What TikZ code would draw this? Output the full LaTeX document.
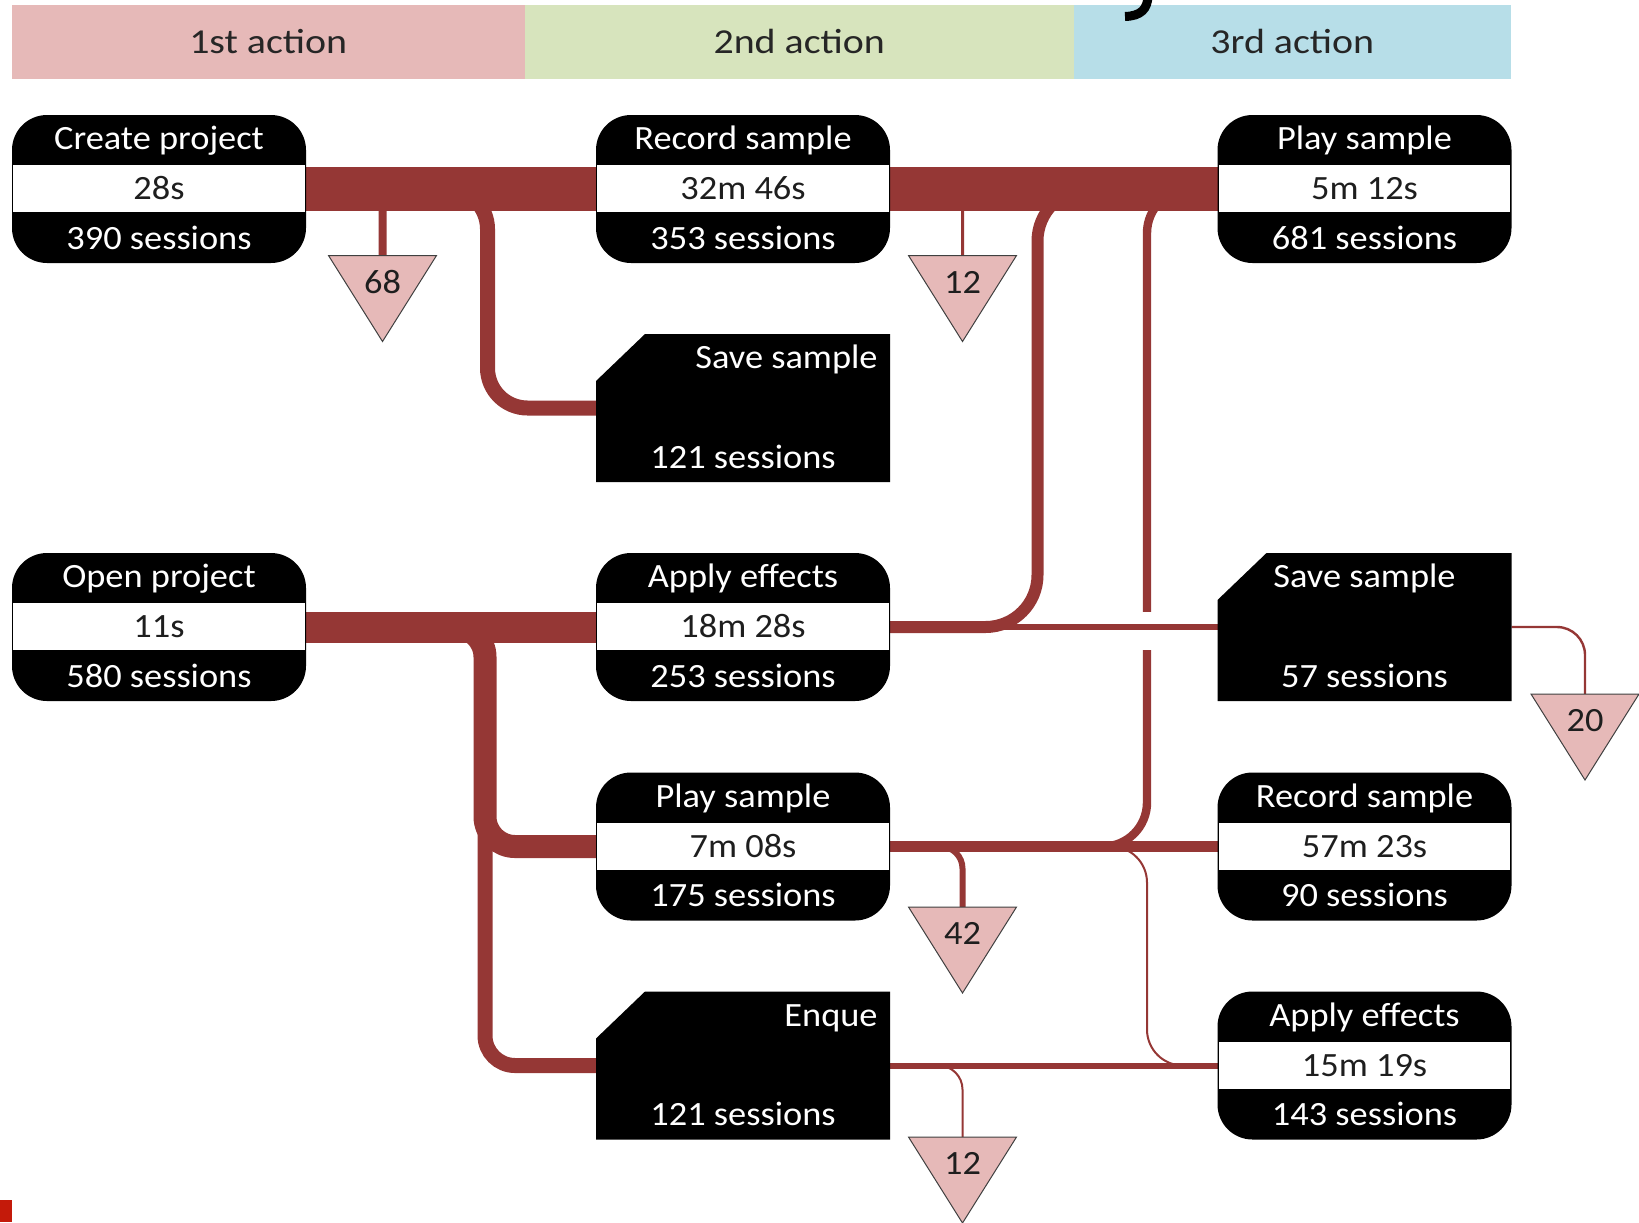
\documentclass[tikz,border=0pt]{standalone}
\usepackage{fontspec}
\setmainfont{Carlito}[FakeStretch=1.07]
\newfontfamily\headfont{Carlito}[FakeStretch=1.14]
\usetikzlibrary{calc}
\pgfdeclarelayer{bg}
\pgfsetlayers{bg,main}

\definecolor{flowred}{RGB}{149,55,53}
\definecolor{headpink}{RGB}{230,185,184}
\definecolor{headgreen}{RGB}{215,228,189}
\definecolor{headblue}{RGB}{183,222,232}
\definecolor{droppink}{RGB}{230,185,184}
\definecolor{inktext}{RGB}{30,30,30}
\definecolor{marker}{RGB}{196,26,10}

\tikzset{
  head/.style={rectangle, inner sep=0pt, outer sep=0pt, minimum height=37pt,
    text=black!85, font=\headfont\fontsize{17.5pt}{20pt}\selectfont,
    text height=11.3pt, text depth=0pt},
  actbox/.style={rectangle, fill=black, rounded corners=17.5pt,
    minimum width=147pt, minimum height=74pt, inner sep=0pt, outer sep=0pt,
    path picture={\fill[white, sharp corners]
      ([xshift=0.7pt,yshift=12pt]path picture bounding box.west) rectangle
      ([xshift=-0.7pt,yshift=-11.5pt]path picture bounding box.east);}},
  cutframe/.style={rectangle, minimum width=147pt, minimum height=74pt,
    inner sep=0pt, outer sep=0pt},
  lbl/.style={inner sep=0pt, font=\fontsize{17pt}{20pt}\selectfont,
    text height=10.9pt, text depth=0pt},
  onblack/.style={lbl, text=white},
  onwhite/.style={lbl, text=inktext},
  dropframe/.style={rectangle, minimum width=54pt, minimum height=43pt,
    inner sep=0pt, outer sep=0pt},
  dropfill/.style={fill=droppink, draw=black!75, line width=0.5pt},
  flow/.style={draw=flowred},
}

% action box: black rounded frame with a white middle band
\newcommand\actnode[6]{%
  \node[actbox] (#1) at (#2,#3) {};
  \node[onblack] (#1-t) at ([yshift=25pt]#1.center) {#4};
  \node[onwhite] (#1-m) at (#1.center) {#5};
  \node[onblack] (#1-b) at ([yshift=-24.75pt]#1.center) {#6};
}
% terminal action: black box with the top-left corner cut off
\newcommand\cutnode[3]{%
  \node[cutframe] (#1) at (#2,#3) {};
  \fill[black] (#1.south west) -- ([yshift=-23.5pt]#1.north west)
    -- ([xshift=24.5pt]#1.north west) -- (#1.north east)
    -- (#1.south east) -- cycle;
}
% drop-out marker: downward triangle with a count
\newcommand\dropnode[4]{%
  \node[dropframe] (#1) at (#2,#3) {};
  \filldraw[dropfill] (#1.north west) -- (#1.north east) -- (#1.south) -- cycle;
  \node[onwhite] (#1-l) at ([yshift=8pt]#1.center) {#4};
}

\begin{document}
\begin{tikzpicture}[x=0.5pt, y=-0.5pt]
\useasboundingbox (0,0) rectangle (1639,1222);

% column headers
\node[head, fill=headpink,  minimum width=256.75pt] (h1) at (268.25,42) {1st action};
\node[head, fill=headgreen, minimum width=274.25pt] (h2) at (799.25,42) {2nd action};
\node[head, fill=headblue,  minimum width=218.75pt] (h3) at (1292.25,42) {3rd action};

% tail of a title glyph above the header
\draw[line width=4.5pt] (1148,-4) .. controls (1147.5,9) and (1141,16) .. (1125,16.5);

% first action
\actnode{cp}{159}{189}{Create project}{28s}{390 sessions}
\actnode{op}{159}{627}{Open project}{11s}{580 sessions}

% second action
\actnode{rs}{743}{189}{Record sample}{32m 46s}{353 sessions}
\cutnode{ss}{743}{408}
\node[onblack, anchor=east] (ss-t) at ([xshift=-6pt,yshift=25pt]ss.east) {Save sample};
\node[onblack] (ss-b) at ([yshift=-24.75pt]ss.center) {121 sessions};
\actnode{ae}{743}{627}{Apply effects}{18m 28s}{253 sessions}
\actnode{pl}{743}{846.5}{Play sample}{7m 08s}{175 sessions}
\cutnode{en}{743}{1065.5}
\node[onblack, anchor=east] (en-t) at ([xshift=-6pt,yshift=25pt]en.east) {Enque};
\node[onblack] (en-b) at ([yshift=-24.75pt]en.center) {121 sessions};

% third action
\actnode{ps}{1364.5}{189}{Play sample}{5m 12s}{681 sessions}
\cutnode{sv}{1364.5}{627}
\node[onblack] (sv-t) at ([yshift=25pt]sv.center) {Save sample};
\node[onblack] (sv-b) at ([yshift=-24.75pt]sv.center) {57 sessions};
\actnode{rt}{1364.5}{846.5}{Record sample}{57m 23s}{90 sessions}
\actnode{at}{1364.5}{1065.5}{Apply effects}{15m 19s}{143 sessions}

% drop-outs
\dropnode{d68}{382.5}{298.5}{68}
\dropnode{d12a}{962.5}{298.5}{12}
\dropnode{d20}{1585}{737}{20}
\dropnode{d42}{962.5}{950}{42}
\dropnode{d12b}{962.5}{1180}{12}

% columns of the vertical flow segments
\coordinate (xs) at (487.5,0);
\coordinate (xo) at (485,0);
\coordinate (xa) at (1037.5,0);
\coordinate (xp) at (1147,0);

\begin{pgfonlayer}{bg}
  % flows out of Create project
  \draw[flow, line width=22pt] (cp.east) -- (rs.west);
  \draw[flow, line width=4pt, rounded corners=6pt] (cp.east) -| (d68.north);
  \draw[flow, line width=7.5pt, rounded corners=20pt] (cp.east) -| (xs |- ss.west) -- (ss.west);
  % flows out of Record sample
  \draw[flow, line width=22pt] (rs.east) -- (ps.west);
  \draw[flow, line width=1.5pt, rounded corners=4pt] (rs.east) -| (d12a.north);
  % flows out of Open project
  \draw[flow, line width=15.5pt] (op.east) -- (ae.west);
  \draw[flow, line width=11.5pt] (op.east) [rounded corners=15pt] -| (xo |- pl.west)
    [rounded corners=16pt] -- (pl.west);
  \draw[flow, line width=7.5pt] (op.east) [rounded corners=15pt] -| (xo |- en.west)
    [rounded corners=17pt] -- (en.west);
  % flows out of Apply effects
  \draw[flow, line width=6pt] (ae.east) [rounded corners=26pt] -| (xa |- ps.west)
    [rounded corners=12pt] -- (ps.west);
  % flows out of Play sample
  \draw[flow, line width=4.2pt] (pl.east) [rounded corners=22pt] -| (xp |- ps.west)
    [rounded corners=8pt] -- (ps.west);
  \draw[flow, line width=5.5pt] (pl.east) -- (rt.west);
  \draw[flow, line width=3pt, rounded corners=11pt] (pl.east) -| (d42.north);
  \draw[flow, line width=1pt] (pl.east) [rounded corners=18pt] -| (xp |- at.west)
    [rounded corners=14pt] -- (at.west);
  % gap where the Save sample flow crosses
  \fill[white] ($(xp |- sv.west)+(-9,-15)$) rectangle ($(xp |- sv.west)+(9,23)$);
  \draw[flow, line width=3pt] (ae.east) -- (sv.west);
  % flows out of Enque
  \draw[flow, line width=3pt] (en.east) -- (at.west);
  \draw[flow, line width=1pt, rounded corners=12pt] (en.east) -| (d12b.north);
  % flow out of Save sample
  \draw[flow, line width=1.2pt, rounded corners=14pt] (sv.east) -| (d20.north);
\end{pgfonlayer}

% corner marker
\fill[marker] (0,1200) rectangle (11.7,1222);
\end{tikzpicture}
\end{document}
